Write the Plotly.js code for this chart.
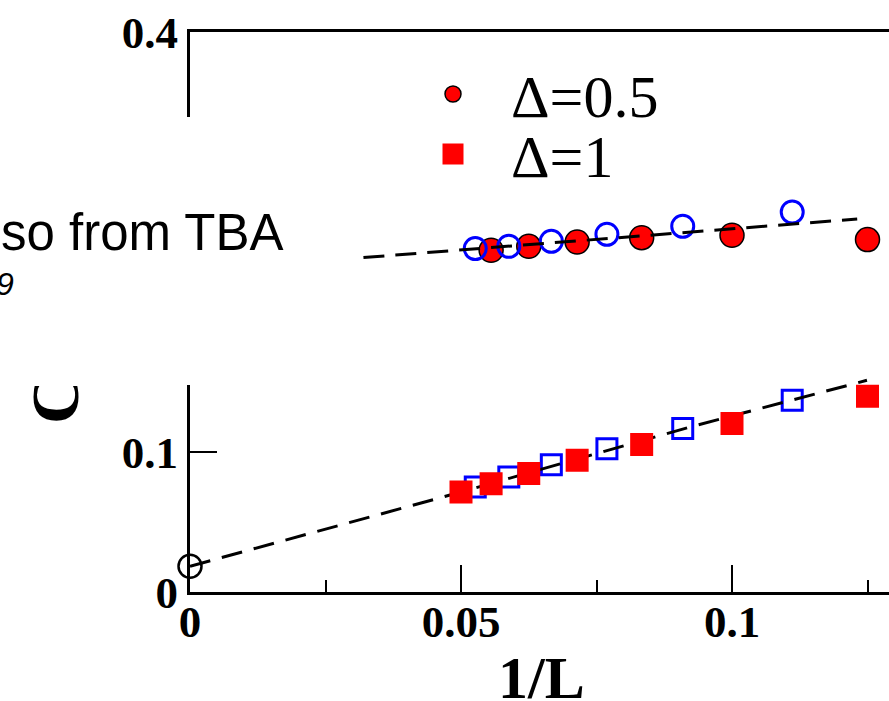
<!DOCTYPE html>
<html>
<head>
<meta charset="utf-8">
<script src="https://cdn.plot.ly/plotly-3.0.1.min.js"></script>
<style>html,body{margin:0;padding:0;background:#fff;}#chart{width:889px;height:701px;}</style>
</head>
<body>
<div id="chart"></div>
<script>
// ---- data (x axis is 1/L, y axis is C) ----
const circ05_L = [18, 16, 14, 12, 10, 8];                  // Δ=0.5, filled red circles
const circ05_C = [0.2441, 0.2469, 0.2500, 0.2531, 0.2548, 0.2517];
const openCirc_L = [19, 17, 15, 13, 11, 9];                // open blue circles
const openCirc_C = [0.2453, 0.2469, 0.2505, 0.2555, 0.2612, 0.2714];
const sq1_L = [20, 18, 16, 14, 12, 10, 8];                 // Δ=1, filled red squares
const sq1_C = [0.0714, 0.0774, 0.0846, 0.0941, 0.1053, 0.1203, 0.1398];
const openSq_L = [19, 17, 15, 13, 11, 9];                  // open blue squares
const openSq_C = [0.0750, 0.0821, 0.0909, 0.1024, 0.1167, 0.1369];
const fitUpper_x = [0.032, 0.1231];                        // dashed fit, upper
const fitUpper_C = [0.2389, 0.2664];
const fitLower_x = [0, 0.05, 0.0923, 0.1249];              // dashed fit, lower
const fitLower_C = [0.0184, 0.0714, 0.1179, 0.1512];
const extrap_x = [0];                                      // extrapolated value (open black circle)
const extrap_C = [0.0184];
const xTickVals = [0, 0.05, 0.1];
const xTickText = ['0', '0.05', '0.1'];
const xMinorVals = [0.025, 0.075, 0.125];
const yTickVals = [0, 0.1, 0.2, 0.3, 0.4];
const yTickText = ['0', '0.1', '0.2', '0.3', '0.4'];
const seriesNames = ['Δ=0.5', 'Δ=1'];
const xTitle = '1/L';
const yTitle = 'C';

const inv = a => a.map(v => 1 / v);
const SERIF = 'Liberation Serif, Times New Roman, serif';
const SANS = 'Liberation Sans, Arial, sans-serif';

const traces = [
  {x: inv(circ05_L), y: circ05_C, type: 'scatter', mode: 'markers', name: seriesNames[0],
   legend: 'legend',
   marker: {symbol: 'circle', size: 24, color: '#ff0000', line: {color: '#000', width: 1.5}}},
  {x: inv(openCirc_L), y: openCirc_C, type: 'scatter', mode: 'markers', showlegend: false,
   marker: {symbol: 'circle-open', size: 22, color: '#0000ff', line: {color: '#0000ff', width: 3}}},
  {x: fitUpper_x, y: fitUpper_C, type: 'scatter', mode: 'lines', showlegend: false,
   line: {color: '#000', width: 3, dash: '21px,11px'}},
  {x: inv(openSq_L), y: openSq_C, type: 'scatter', mode: 'markers', showlegend: false,
   marker: {symbol: 'square-open', size: 20, color: '#0000ff', line: {color: '#0000ff', width: 3}}},
  {x: fitLower_x, y: fitLower_C, type: 'scatter', mode: 'lines', showlegend: false,
   line: {color: '#000', width: 3, dash: '21px,12px'}},
  {x: inv(sq1_L), y: sq1_C, type: 'scatter', mode: 'markers', name: seriesNames[1],
   legend: 'legend2',
   marker: {symbol: 'square', size: 18, color: '#ff0000', line: {color: '#ff0000', width: 5}}},
  {x: extrap_x, y: extrap_C, type: 'scatter', mode: 'markers', showlegend: false, cliponaxis: false,
   marker: {symbol: 'circle-open', size: 23, color: '#000', line: {color: '#000', width: 2.5}}}
];

const tickFont = {family: SERIF, size: 45, color: '#000', weight: 'bold'};
const legFont = {family: SERIF, size: 60, color: '#000'};

const layout = {
  width: 889, height: 701,
  margin: {l: 190, r: 0, t: 32, b: 109, pad: 0},
  paper_bgcolor: '#fff', plot_bgcolor: '#fff',
  showlegend: true,
  xaxis: {
    range: [0, 699 / 5420], tickvals: xTickVals, ticktext: xTickText,
    ticks: 'inside', ticklen: 27, tickwidth: 2, tickcolor: '#000',
    showline: true, linewidth: 3, linecolor: '#000', mirror: true,
    showgrid: false, zeroline: false, tickfont: tickFont, automargin: false,
    ticklabelstandoff: -12,
    minor: {tickvals: xMinorVals, ticks: 'inside', ticklen: 12, tickwidth: 2, tickcolor: '#000', showgrid: false}
  },
  yaxis: {
    range: [0, 0.4], tickvals: yTickVals, ticktext: yTickText,
    ticks: 'inside', ticklen: 27, tickwidth: 2, tickcolor: '#000',
    showline: true, linewidth: 3, linecolor: '#000', mirror: false,
    showgrid: false, zeroline: false, tickfont: tickFont, automargin: false
  },
  legend: {
    x: (395 - 190) / 699, xanchor: 'left', y: (592 - 94) / 560, yanchor: 'middle',
    font: legFont, bgcolor: 'rgba(0,0,0,0)', borderwidth: 0, itemwidth: 106
  },
  legend2: {
    x: (395 - 190) / 699, xanchor: 'left', y: (592 - 154) / 560, yanchor: 'middle',
    font: legFont, bgcolor: 'rgba(0,0,0,0)', borderwidth: 0, itemwidth: 106
  },
  shapes: [
    {type: 'rect', xref: 'paper', yref: 'paper', layer: 'above',
     x0: -0.3, x1: (362 - 190) / 699, y0: (592 - 385) / 560, y1: (592 - 117) / 560,
     fillcolor: '#fff', line: {width: 0}}
  ],
  annotations: [
    {text: xTitle, xref: 'paper', yref: 'paper', x: (541 - 190) / 699, y: (592 - 678) / 560,
     xanchor: 'center', yanchor: 'middle', showarrow: false, borderpad: 0,
     font: {family: SERIF, size: 60, color: '#000', weight: 'bold'}},
    {text: yTitle, xref: 'paper', yref: 'paper', x: (55 - 190) / 699, y: (592 - 405) / 560,
     xanchor: 'center', yanchor: 'middle', showarrow: false, textangle: -90,
     width: 38, align: 'left', borderpad: 0,
     font: {family: SERIF, size: 68, color: '#000', weight: 'bold'}},
    {text: 'so from TBA', xref: 'paper', yref: 'paper', x: (284 - 190) / 699, y: (592 - 233) / 560,
     xanchor: 'right', yanchor: 'middle', showarrow: false, borderpad: 0,
     font: {family: SANS, size: 51, color: '#000'}},
    {text: '<i>9</i>', xref: 'paper', yref: 'paper', x: (15 - 190) / 699, y: (592 - 284) / 560,
     xanchor: 'right', yanchor: 'middle', showarrow: false, borderpad: 0,
     font: {family: SANS, size: 32, color: '#000'}}
  ]
};

Plotly.newPlot('chart', traces, layout, {staticPlot: true, displayModeBar: false});
</script>
</body>
</html>
